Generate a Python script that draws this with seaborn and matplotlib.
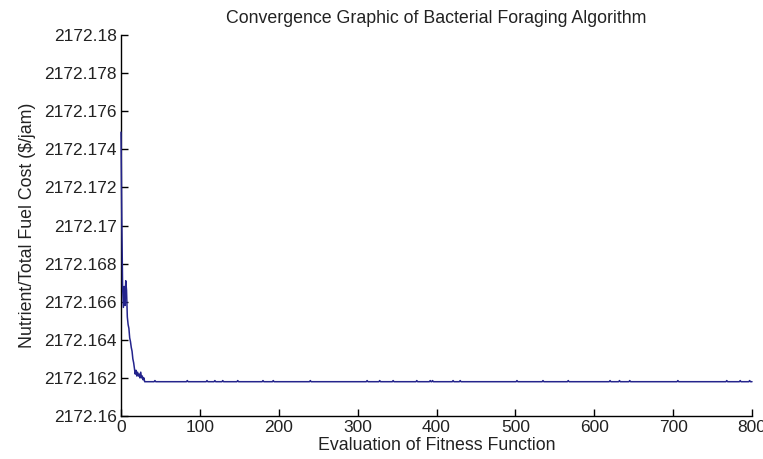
import numpy as np
import pandas as pd
import seaborn as sns
import matplotlib
matplotlib.use("Agg")
import matplotlib.pyplot as plt
import matplotlib.ticker as ticker

sns.set_style("ticks")
plt.rcParams['font.family'] = ['Liberation Sans', 'DejaVu Sans']

# early convergence
early_iter = [0, 1, 2, 3, 4, 5, 6, 7, 8, 9, 10, 11, 12, 13, 14, 15, 16, 17, 18,
              19, 20, 21, 22, 23, 24, 25, 26, 27, 28, 29, 30, 31]
early_cost = [2172.1749, 2172.1703, 2172.1668, 2172.1657, 2172.1668, 2172.1658,
              2172.1671, 2172.1666, 2172.1652, 2172.1648, 2172.1646, 2172.1641,
              2172.1639, 2172.1636, 2172.1634, 2172.1630, 2172.1628, 2172.1625,
              2172.1622, 2172.1624, 2172.1621, 2172.1623, 2172.1621, 2172.1622,
              2172.1620, 2172.1623, 2172.1620, 2172.1621, 2172.1619, 2172.1620,
              2172.1618, 2172.1618]

# flat tail with the small blips visible along it
final_cost = 2172.1618
blip_iter = [43, 84, 109, 119, 129, 148, 180, 193, 240, 312, 328, 345, 375, 392,
             395, 421, 430, 502, 535, 567, 620, 632, 645, 706, 768, 785, 797]
blip_cost = 2172.16186

rows = list(zip(early_iter, early_cost))
for it in blip_iter:
    rows += [(it - 1, final_cost), (it, blip_cost), (it + 1, final_cost)]
rows.append((800, final_cost))
data = pd.DataFrame(rows, columns=['Evaluation', 'Cost']).sort_values('Evaluation')

fig = plt.figure(figsize=(7.63, 4.59), dpi=100)
ax = fig.add_axes([0.1586, 0.0937, 0.8270, 0.8300])

sns.lineplot(data=data, x='Evaluation', y='Cost', ax=ax, color='#24248c',
             linewidth=1.1, sort=False, zorder=3)
for ln in ax.lines:
    ln.set_clip_on(False)

ax.set_xlim(0, 800)
ax.set_ylim(2172.16, 2172.18)
ax.set_xticks(range(0, 801, 100))
ax.set_yticks(np.linspace(2172.16, 2172.18, 11))
ax.yaxis.set_major_formatter(ticker.FuncFormatter(
    lambda v, p: ('%.3f' % v).rstrip('0').rstrip('.')))
ax.tick_params(direction='in', length=5, width=1, labelsize=12.5, colors='black',
               labelcolor='#222222', pad=3)

sns.despine(ax=ax)
for s in ['left', 'bottom']:
    ax.spines[s].set_color('black')
    ax.spines[s].set_linewidth(1.0)

ax.set_xlabel('Evaluation of Fitness Function', fontsize=12.8, color='#222222', labelpad=1)
ax.set_ylabel('Nutrient/Total Fuel Cost ($/jam)', fontsize=12.8, color='#222222', labelpad=6)
ax.set_title('Convergence Graphic of Bacterial Foraging Algorithm', fontsize=12.8,
             color='#222222', pad=9)

fig.savefig('out.png', dpi=100)
